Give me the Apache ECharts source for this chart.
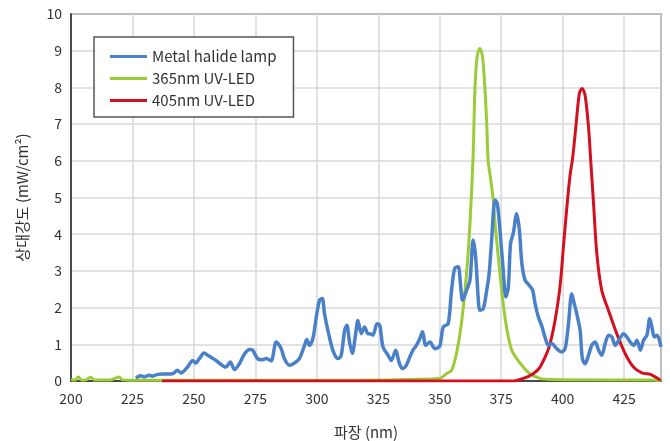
<!DOCTYPE html>
<html><head><meta charset="utf-8">
<script src="https://cdn.jsdelivr.net/npm/echarts@6/dist/echarts.min.js"></script>
<style>html,body{margin:0;padding:0;background:#fff}#c{width:670px;height:441px}</style>
</head><body><div id="c"></div>
<script>
var seriesNames = ['Metal halide lamp', '365nm UV-LED', '405nm UV-LED'];
var xTickValues = [200, 225, 250, 275, 300, 325, 350, 375, 400, 425];

var lampX = [226.4,228.4,229.8,231.8,233.2,235.2,238,241.3,243.3,244.7,247.4,249.5,250.8,252.2,254.2,255.6,259,263,264.8,266.5,268.5,270.5,272.6,273.9,275.9,278,279.4,281.4,283.5,285.5,286.8,288.9,290.9,292.9,295,295.9,297,298.4,299.8,301.1,302.2,303.1,304.5,306.5,308.6,309.9,311.3,312.2,313.3,314.4,315.8,316.7,318.1,319.4,320.8,321.5,322.8,324.5,325.6,326.9,329,330.3,332.1,333.4,334.8,336.4,337.8,339.1,340.5,341.9,343,344.3,346,348,350,351.4,353.4,354.8,356.1,357.5,358.4,359.3,360.9,362.3,363.6,364.6,365.7,366.3,367.7,369.1,370.1,371.1,372.5,373.4,374.5,375.8,376.9,377.9,378.8,379.9,381.3,382.4,383.4,384.7,386.4,387.8,388.8,390.1,391.5,392.8,394.2,395.5,397.6,399.6,401,402.3,403.7,404.7,405.7,407.1,408,409.1,410.5,411.8,413.2,414.6,415.9,417.3,418.7,420,421.4,422.8,424.8,426.1,427.5,428.9,430.2,431.6,432.9,434.3,435.4,436.3,437.3,438.4,440];
var lampY = [0.08,0.14,0.11,0.16,0.13,0.18,0.19,0.2,0.29,0.22,0.38,0.56,0.49,0.61,0.76,0.70,0.56,0.38,0.52,0.31,0.47,0.73,0.86,0.84,0.61,0.58,0.61,0.55,1.06,0.88,0.61,0.43,0.49,0.61,0.97,1.13,0.97,1.16,1.75,2.2,2.25,1.84,1.38,0.84,0.61,0.70,1.38,1.52,1.06,0.75,1.29,1.65,1.29,1.47,1.29,1.29,1.25,1.56,1.52,0.93,0.70,0.56,0.84,0.52,0.34,0.43,0.65,0.84,0.97,1.16,1.34,0.97,1.06,0.88,0.95,1.47,1.56,2.47,3.07,3.11,2.66,2.20,2.47,2.75,3.84,3.38,2.20,1.93,1.97,2.47,2.93,3.84,4.93,4.84,4.11,3.02,2.29,2.56,3.75,4.02,4.56,4.11,3.2,2.75,2.61,2.47,2.1,1.75,1.5,1.2,0.97,1.02,0.88,0.79,0.88,1.52,2.38,2.11,1.84,1.38,0.61,0.47,0.70,0.97,1.06,0.84,0.70,1.02,1.25,1.2,0.97,1.11,1.29,1.2,1.06,0.97,1.11,0.84,1.11,1.25,1.7,1.47,1.2,1.25,0.93];

var led365X = [200,201.5,203,204.5,206,208,209.5,212,216,219.5,221,224,240,300,350,352.7,354.8,356.8,358.8,360.9,362.3,363.6,364.3,365.2,366.3,367.4,368.4,369.1,369.7,370.7,371.8,372.5,373.8,375.2,376.5,377.9,379.3,381.3,384,386.7,390.8,395,420,437,440];
var led365Y = [0.04,0.02,0.11,0.02,0.03,0.1,0.03,0.03,0.03,0.11,0.03,0.02,0.02,0.02,0.07,0.2,0.29,0.75,1.56,2.93,4.29,6.2,7.93,8.84,9.06,8.84,7.93,7.02,6.0,5.5,4.9,4.29,3.38,2.47,1.75,1.2,0.84,0.61,0.38,0.2,0.07,0.04,0.03,0.03,0.0];

var led405X = [237,300,380,384,388,390.8,393.5,394.9,396.9,398.9,400.3,401.6,403,404.1,405.5,406.8,407.9,409.1,410.5,411.4,412.5,413.9,415.9,418.6,422,425.4,428.8,432.2,435.7,437.7,439.8];
var led405Y = [0.0,0.0,0.0,0.07,0.2,0.38,0.75,1.02,1.65,2.56,3.65,4.66,5.6,6.1,7.02,7.84,7.97,7.79,6.93,6.02,4.9,3.47,2.47,1.93,1.29,0.75,0.38,0.22,0.18,0.11,0.02];

function pairs(xs, ys){ return xs.map(function(x,i){ return [x, ys[i]]; }); }

var font = '"Noto Sans CJK KR","Noto Sans",sans-serif';
var chart = echarts.init(document.getElementById('c'));
chart.setOption({
  animation: false,
  backgroundColor: '#fff',
  textStyle: {fontFamily: font},
  grid: {left: 71, right: 9, top: 14, bottom: 60, show: true, borderColor: '#444', borderWidth: 1.5,
         containLabel: false, outerBoundsMode: 'none'},
  legend: {
    orient: 'vertical', left: 94, top: 37,
    backgroundColor: '#fff', borderColor: '#555', borderWidth: 1.5,
    padding: [12, 17, 9, 16], itemGap: 7,
    itemWidth: 37, itemHeight: 3, icon: 'rect',
    textStyle: {fontSize: 15, color: '#333', fontFamily: font},
    data: seriesNames
  },
  xAxis: {
    type: 'value', min: 200, max: 440, interval: 25,
    name: '파장 (nm)', nameLocation: 'middle', nameGap: 44,
    nameTextStyle: {fontSize: 15, color: '#333'},
    axisLine: {show: true, lineStyle: {color: '#222', width: 1.5}},
    axisTick: {show: false},
    axisLabel: {fontSize: 14, color: '#333', margin: 11, showMaxLabel: false,
      formatter: function(v){ return xTickValues.indexOf(v) >= 0 ? String(v) : ''; }},
    splitLine: {show: true, lineStyle: {color: '#d9d9d9', width: 1.5}}
  },
  yAxis: {
    type: 'value', min: 0, max: 10, interval: 1,
    name: '상대강도 (mW/cm²)', nameLocation: 'middle', nameGap: 41,
    nameTextStyle: {fontSize: 15, color: '#333'},
    axisLine: {show: true, lineStyle: {color: '#222', width: 1.5}},
    axisTick: {show: false},
    axisLabel: {fontSize: 14, color: '#333', margin: 9},
    splitLine: {show: true, lineStyle: {color: '#d9d9d9', width: 1.5}}
  },
  series: [
    {name: seriesNames[1], type: 'line', data: pairs(led365X, led365Y), smooth: 0.3, showSymbol: false,
     lineStyle: {color: '#9bcb36', width: 3}, itemStyle: {color: '#9bcb36'}, z: 2},
    {name: seriesNames[2], type: 'line', data: pairs(led405X, led405Y), smooth: 0.3, showSymbol: false,
     lineStyle: {color: '#d3101f', width: 3}, itemStyle: {color: '#d3101f'}, z: 3},
    {name: seriesNames[0], type: 'line', data: pairs(lampX, lampY), smooth: 0.3, showSymbol: false,
     lineStyle: {color: '#4a80c8', width: 3.5}, itemStyle: {color: '#4a80c8'}, z: 4}
  ]
});
</script></body></html>
